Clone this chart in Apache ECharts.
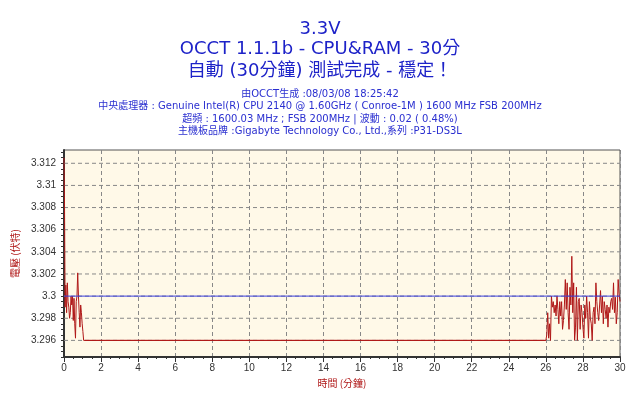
<!DOCTYPE html>
<html><head><meta charset="utf-8">
<script src="https://cdn.jsdelivr.net/npm/echarts@6/dist/echarts.min.js"></script>
<style>html,body{margin:0;background:#fff}#c{width:640px;height:404px}</style>
</head><body><div id="c"></div>
<script>
const titleLines = ['3.3V', 'OCCT 1.1.1b - CPU&RAM - 30分', '自動 (30分鐘) 測試完成 - 穩定！'];
const infoLines = [
  '由OCCT生成 :08/03/08 18:25:42',
  '中央處理器 : Genuine Intel(R) CPU 2140 @ 1.60GHz ( Conroe-1M ) 1600 MHz FSB 200MHz',
  '超頻 : 1600.03 MHz ; FSB 200MHz | 波動 : 0.02 ( 0.48%)',
  '主機板品牌 :Gigabyte Technology Co., Ltd.,系列 :P31-DS3L'
];
const yTicks = [3.296, 3.298, 3.3, 3.302, 3.304, 3.306, 3.308, 3.31, 3.312];
const times = [0,0.03,0.06,0.1,0.14,0.18,0.22,0.26,0.3,0.34,0.38,0.42,0.46,0.5,0.54,0.58,0.62,0.66,0.7,0.74,0.78,0.82,0.86,0.9,0.94,0.98,1.02,1.06,1.12,
  26.0,26.05,26.1,26.15,26.2,26.25,26.3,26.35,26.4,26.45,26.5,26.55,26.6,26.65,26.7,26.75,26.8,26.85,26.9,26.95,27.0,27.05,27.1,27.15,27.2,27.25,27.3,27.35,27.4,27.45,27.5,27.55,27.6,27.65,27.7,27.75,27.8,27.85,27.9,27.95,28.0,28.05,28.1,28.15,28.2,28.25,28.3,28.35,28.4,28.45,28.5,28.55,28.6,28.65,28.7,28.75,28.8,28.85,28.9,28.95,29.0,29.05,29.1,29.15,29.2,29.25,29.3,29.35,29.4,29.45,29.5,29.55,29.6,29.65,29.7,29.75,29.8,29.85,29.9,29.95,30.0];
const volts = [3.3125,3.3078,3.299,3.301,3.2985,3.3012,3.2995,3.299,3.298,3.2985,3.3,3.2992,3.3,3.2978,3.2998,3.2975,3.2962,3.2995,3.3,3.3021,3.3,3.2985,3.2972,3.2992,3.2985,3.2975,3.2968,3.296,3.296,
  3.296,3.2965,3.2985,3.2962,3.2975,3.296,3.3,3.299,3.2995,3.2985,3.2992,3.2982,3.3,3.2988,3.2975,3.2995,3.2982,3.2995,3.297,3.2978,3.2992,3.3015,3.2988,3.3012,3.2985,3.297,3.3008,3.2992,3.3036,3.2985,3.3012,3.296,3.2972,3.3008,3.296,3.2995,3.2998,3.297,3.2992,3.2985,3.2972,3.2962,3.2992,3.298,3.3,3.2985,3.2962,3.2995,3.298,3.2975,3.296,3.2985,3.299,3.2975,3.3012,3.2995,3.2985,3.2978,3.2992,3.3005,3.2985,3.3,3.2975,3.2995,3.2988,3.298,3.2992,3.2972,3.299,3.2985,3.2995,3.2998,3.2988,3.3012,3.2985,3.2999,3.2975,3.2985,3.3015,3.3002,3.2995];
const target = [[0,3.3],[30,3.3]];

const chart = echarts.init(document.getElementById('c'));
chart.setOption({
  animation: false,
  backgroundColor: '#fff',
  graphic: [
    { type: 'text', left: 'center', top: 20, style: { text: titleLines[0], fill: '#1d22c8', font: '18px "DejaVu Sans"' } },
    { type: 'text', left: 'center', top: 40, style: { text: titleLines[1], fill: '#1d22c8', font: '18px "DejaVu Sans", "Noto Sans CJK TC"' } },
    { type: 'text', left: 'center', top: 62, style: { text: titleLines[2], fill: '#1d22c8', font: '18px "DejaVu Sans", "Noto Sans CJK TC"' } },
    ...infoLines.map((t, i) => ({ type: 'text', left: 'center', top: 89 + i * 12.5, style: { text: t, fill: '#2a2fd0', font: '10px "DejaVu Sans", "Noto Sans CJK TC"' } }))
  ],
  grid: { left: 64, right: 20, top: 150, bottom: 47, backgroundColor: '#fff9e8', show: true, borderColor: '#555', borderWidth: 1 },
  xAxis: {
    type: 'value', min: 0, max: 30, interval: 2,
    name: '時間 (分鐘)', nameLocation: 'middle', nameGap: 17,
    nameTextStyle: { color: '#b01818', fontSize: 10, fontFamily: 'Noto Sans CJK TC' },
    axisLine: { lineStyle: { color: '#333', width: 2 } },
    axisTick: { show: true, lineStyle: { color: '#333' } },
    minorTick: { show: true, splitNumber: 4, length: 2 },
    axisLabel: { color: '#333', fontSize: 10, margin: 6 },
    splitLine: { show: true, lineStyle: { color: '#888', type: [4, 3] } }
  },
  yAxis: {
    type: 'value', min: 3.2945, max: 3.3132, interval: 0.0005,
    name: '電壓 (伏特)', nameLocation: 'middle', nameGap: 38,
    nameTextStyle: { color: '#b01818', fontSize: 10, fontFamily: 'Noto Sans CJK TC' },
    axisLine: { show: true, lineStyle: { color: '#333', width: 2 } },
    axisTick: { show: true, length: 3, lineStyle: { color: '#333' } },
    axisLabel: { color: '#333', fontSize: 10, showMaxLabel: false,
      formatter: v => yTicks.some(t => Math.abs(t - v) < 1e-6) ? String(+v.toFixed(3)) : '' },
    splitLine: { show: false }
  },
  series: [
    ...yTicks.map(v => ({ type: 'line', data: [[0, v], [30, v]], symbol: 'none', silent: true, z: 1,
      lineStyle: { color: '#888', type: [4, 3], width: 1 } })),
    { type: 'line', data: target, symbol: 'none', lineStyle: { color: '#3a3ee0', width: 1 }, z: 3 },
    { type: 'line', data: times.map((t, i) => [t, volts[i]]), symbol: 'none', lineStyle: { color: '#b01818', width: 1 }, z: 2 },
    { type: 'line', data: [[1.12, 3.296], [26.0, 3.296]], symbol: 'none', lineStyle: { color: '#b01818', width: 1 }, z: 2 }
  ]
});
</script></body></html>
